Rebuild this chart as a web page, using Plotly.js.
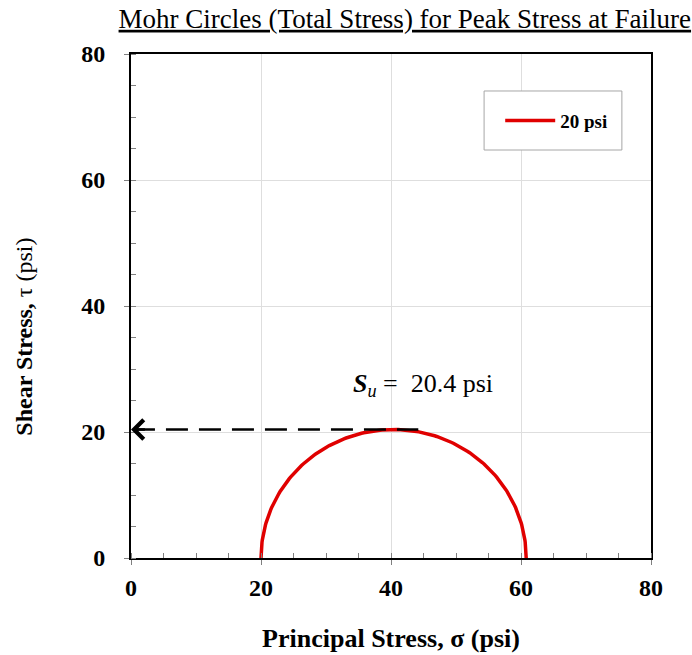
<!DOCTYPE html>
<html>
<head>
<meta charset="utf-8">
<script src="https://cdn.plot.ly/plotly-3.0.1.min.js"></script>
<style>
  html, body { margin: 0; padding: 0; background: #ffffff; }
  #chart { width: 692px; height: 655px; }
</style>
</head>
<body>
<div id="chart"></div>
<script>
// Triaxial test at failure: confining (minor principal) stress and major principal stress, psi
const testNames = ['20 psi'];
const sigma3 = [20.0];
const sigma1 = [60.8];

// Axis ticks
const xTicks = [0, 20, 40, 60, 80];
const yTicks = [0, 20, 40, 60, 80];

const serif = 'Liberation Serif';
const red = '#e00000';

// Mohr circle (upper half) for each test, traced from its principal stresses
const traces = testNames.map((name, i) => {
  const c = (sigma1[i] + sigma3[i]) / 2;
  const r = (sigma1[i] - sigma3[i]) / 2;
  const xs = [], ys = [];
  const n = 180;
  for (let k = 0; k <= n; k++) {
    const t = Math.PI * (1 - k / n);
    xs.push(c + r * Math.cos(t));
    ys.push(r * Math.sin(t));
  }
  return {
    type: 'scatter', mode: 'lines', name: name,
    x: xs, y: ys,
    line: { color: red, width: 3.5 },
    hoverinfo: 'skip'
  };
});

// Undrained shear strength = radius of the circle
const su = (sigma1[0] - sigma3[0]) / 2;
const dashEnd = 44.2;

const axisCommon = {
  range: [0, 80],
  showline: true, linecolor: '#000000', linewidth: 2, mirror: true,
  showgrid: true, gridcolor: '#dedede', gridwidth: 1,
  zeroline: false,
  ticks: 'outside', ticklen: 5, tickwidth: 1, tickcolor: '#808080',
  minor: { dtick: 5, ticks: 'inside', ticklen: 5, tickwidth: 1, tickcolor: '#808080', showgrid: false },
  tickfont: { family: serif, size: 24, color: '#000000', weight: 'bold' },
  fixedrange: true
};

const layout = {
  width: 692, height: 655,
  margin: { l: 131, r: 41, t: 54, b: 97 },
  paper_bgcolor: '#ffffff', plot_bgcolor: '#ffffff',
  font: { family: serif, color: '#000000' },
  title: {
    text: '<u>Mohr Circles (Total Stress) for Peak Stress at Failure</u>',
    font: { family: serif, size: 27, color: '#000000' },
    x: 0.585, xanchor: 'center', y: 0.972, yanchor: 'middle'
  },
  xaxis: Object.assign({}, axisCommon, {
    tickvals: xTicks,
    ticklabelstandoff: 2,
    title: {
      text: 'Principal Stress, σ (psi)',
      font: { family: serif, size: 26, color: '#000000', weight: 'bold' },
      standoff: 29
    }
  }),
  yaxis: Object.assign({}, axisCommon, {
    tickvals: yTicks,
    ticklabelstandoff: 14
  }),
  showlegend: true,
  legend: {
    x: 0.710, xanchor: 'left', y: 0.868, yanchor: 'middle',
    itemwidth: 50,
    bgcolor: 'rgba(0,0,0,0)', borderwidth: 0,
    font: { family: serif, size: 19, color: '#000000', weight: 'bold' }
  },
  shapes: [
    // legend frame
    { type: 'rect', xref: 'paper', yref: 'paper',
      x0: 0.679, x1: 0.944, y0: 0.8095, y1: 0.9266,
      line: { color: '#a6a6a6', width: 1 }, fillcolor: '#ffffff', layer: 'above' },
    // dashed leader at the shear strength level
    { type: 'line', xref: 'x', yref: 'y',
      x0: 0.3, x1: dashEnd, y0: su, y1: su,
      line: { color: '#000000', width: 2.5, dash: '22px,11px' } }
  ],
  annotations: [
    { xref: 'x', yref: 'y', x: 0, y: su, ax: 2.6, ay: su, axref: 'x', ayref: 'y',
      showarrow: true, arrowhead: 4, arrowsize: 1.5, arrowwidth: 2.5, arrowcolor: '#000000',
      text: ' ' },
    { xref: 'x', yref: 'y', x: 44.9, y: 27.4, xanchor: 'center', yanchor: 'middle',
      showarrow: false,
      text: '<b><i>S</i></b><sub><i>u</i></sub> =  ' + su.toFixed(1) + ' psi',
      font: { family: serif, size: 26, color: '#000000' } },
    { xref: 'paper', yref: 'paper', x: -0.205, y: 0.44, xanchor: 'center', yanchor: 'middle',
      textangle: -90, showarrow: false,
      text: '<b>Shear Stress, </b>τ (psi)',
      font: { family: serif, size: 24, color: '#000000' } }
  ]
};

Plotly.newPlot('chart', traces, layout, { displayModeBar: false, staticPlot: true });
</script>
</body>
</html>
